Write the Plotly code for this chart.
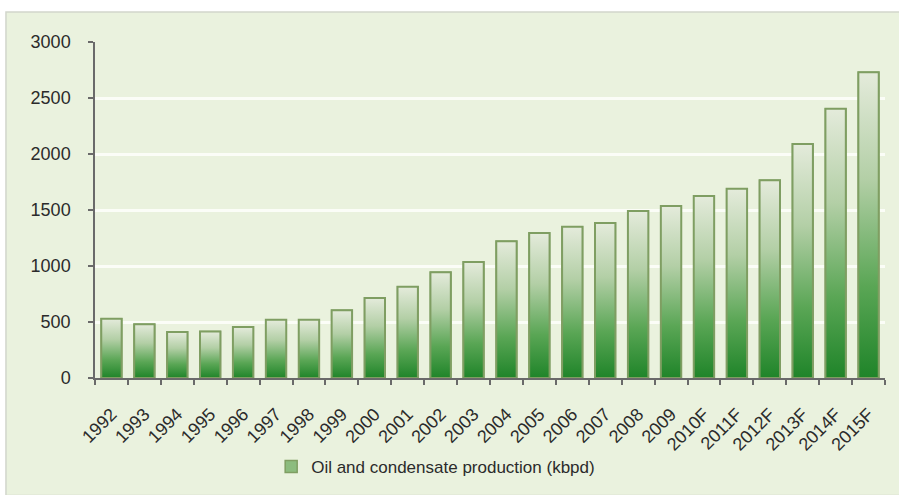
import plotly.graph_objects as go

# Oil and condensate production by year (kbpd); "F" marks forecast years
years = ["1992", "1993", "1994", "1995", "1996", "1997", "1998", "1999",
         "2000", "2001", "2002", "2003", "2004", "2005", "2006", "2007",
         "2008", "2009", "2010F", "2011F", "2012F", "2013F", "2014F", "2015F"]
production = [530, 480, 410, 415, 455, 520, 520, 605,
              715, 815, 945, 1035, 1220, 1295, 1350, 1385,
              1490, 1535, 1625, 1690, 1765, 2090, 2405, 2730]
y_ticks = [0, 500, 1000, 1500, 2000, 2500, 3000]
series_name = "Oil and condensate production (kbpd)"

FONT = "Liberation Sans, Arial, sans-serif"
TEXT = "#2b2b2b"
PANEL = "#eaf2de"
EDGE = "#7f9e62"
AXIS = "#6a6a6a"
HALF_W = 0.31
gradient = [[0.0, "#1f8429"], [0.3, "#5aa655"], [0.65, "#b3cfa6"], [1.0, "#e4ebdb"]]

xs = list(range(len(years)))

fig = go.Figure()

# Base bar trace: provides the legend swatch and sits under the gradient fills
fig.add_trace(go.Bar(
    x=xs, y=production, width=2 * HALF_W, name=series_name,
    marker=dict(color="#8cbc7e", line=dict(color=EDGE, width=1.5)),
    showlegend=True, hoverinfo="skip",
))

# Gradient-filled body of each bar, dark at the base fading to pale at the top
for i, v in enumerate(production):
    fig.add_trace(go.Scatter(
        x=[i - HALF_W, i - HALF_W, i + HALF_W, i + HALF_W, i - HALF_W],
        y=[0, v, v, 0, 0],
        mode="lines", fill="toself",
        fillgradient=dict(type="vertical", colorscale=gradient, start=0, stop=v),
        line=dict(color=EDGE, width=2),
        showlegend=False, hoverinfo="skip",
    ))

# Light panel behind the chart
fig.add_shape(type="rect", xref="paper", yref="paper",
              x0=-0.1127, x1=1.05, y0=-0.35, y1=1.089,
              fillcolor=PANEL, line=dict(color="#d2d6cc", width=1.5), layer="below")

fig.update_layout(
    width=899, height=495,
    margin=dict(l=95, r=14, t=42, b=117, autoexpand=False),
    paper_bgcolor="white",
    plot_bgcolor="rgba(0,0,0,0)",
    font=dict(family=FONT, size=17, color=TEXT),
    barmode="overlay",
    showlegend=True,
    legend=dict(orientation="h", x=0.223, xanchor="left", y=-0.265, yanchor="middle",
                bgcolor="rgba(0,0,0,0)", itemwidth=30,
                font=dict(family=FONT, size=17, color=TEXT)),
)

fig.update_xaxes(
    range=[-0.5, len(years) - 0.5], automargin=False,
    tickmode="array", tickvals=xs, ticktext=years, tickangle=-45,
    ticks="", showgrid=False, zeroline=False,
    showline=True, linecolor=AXIS, linewidth=1.5,
    ticklabelstandoff=17,
    tickfont=dict(family=FONT, size=18, color=TEXT),
    minor=dict(tickmode="array", tickvals=[i - 0.5 for i in range(len(years) + 1)],
               ticks="outside", ticklen=5, tickcolor=AXIS, tickwidth=1.5, showgrid=False),
)

fig.update_yaxes(
    range=[0, 3000], tickmode="array", tickvals=y_ticks, automargin=False,
    ticks="outside", ticklen=5, tickcolor=AXIS, tickwidth=1.5,
    showline=True, linecolor=AXIS, linewidth=1.5,
    showgrid=True, gridcolor="#fbfdf7", gridwidth=2.5, zeroline=False,
    ticklabelstandoff=14,
    tickfont=dict(family=FONT, size=18, color=TEXT),
)

fig.write_html("out.html")
